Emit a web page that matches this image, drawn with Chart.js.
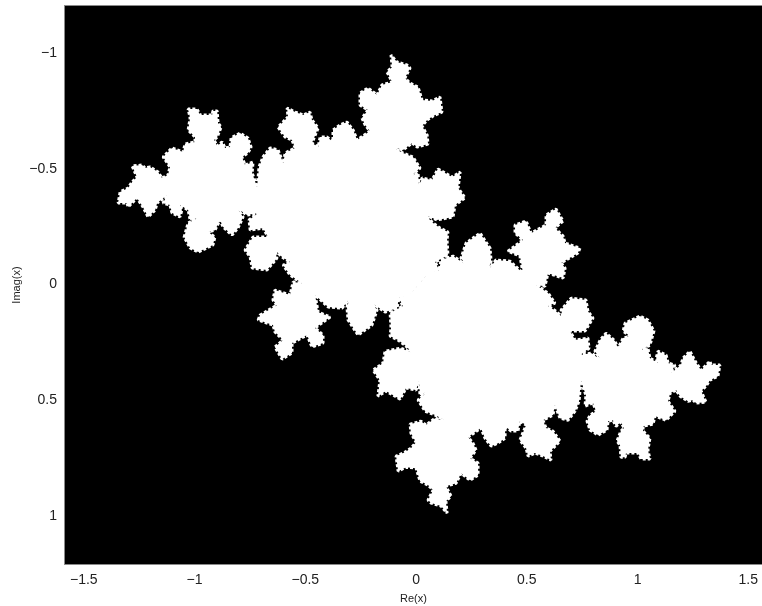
<!DOCTYPE html>
<html>
<head>
<meta charset="utf-8">
<style>
  html, body { margin: 0; padding: 0; background: #fff; overflow: hidden; }
  canvas { display: block; }
</style>
<script src="https://cdn.jsdelivr.net/npm/chart.js@4/dist/chart.umd.min.js"></script>
</head>
<body>
<canvas id="julia-chart" width="762" height="606"></canvas>
<script>
// outline of the upper left body
const upperRe = [
  0.014,0.050,0.104,0.086,0.144,0.140,0.144,0.108,0.077,0.041,
  0.095,0.167,0.176,0.221,0.190,0.199,0.163,0.099,0.072,0.027,
  0.014,0.009,-0.027,0.018,-0.014,-0.059,-0.117,-0.059,-0.018,0.005,
  0.054,0.050,0.027,0.050,0.077,0.117,0.108,0.072,0.027,0.009,
  -0.027,-0.050,-0.027,-0.041,-0.086,-0.113,-0.108,-0.131,-0.108,-0.154,
  -0.176,-0.217,-0.253,-0.253,-0.217,-0.244,-0.230,-0.208,-0.221,-0.266,
  -0.284,-0.312,-0.343,-0.375,-0.375,-0.402,-0.433,-0.442,-0.470,-0.442,
  -0.470,-0.479,-0.510,-0.546,-0.582,-0.578,-0.623,-0.591,-0.560,-0.546,
  -0.591,-0.600,-0.623,-0.659,-0.691,-0.709,-0.713,-0.718,-0.740,-0.736,
  -0.772,-0.786,-0.759,-0.745,-0.759,-0.795,-0.835,-0.840,-0.862,-0.876,
  -0.898,-0.912,-0.898,-0.880,-0.894,-0.898,-0.917,-0.921,-0.975,-0.989,
  -1.029,-1.020,-1.029,-0.998,-0.998,-1.043,-1.052,-1.102,-1.142,-1.111,
  -1.120,-1.147,-1.165,-1.201,-1.224,-1.237,-1.282,-1.260,-1.282,-1.300,
  -1.336,-1.345,-1.305,-1.300,-1.260,-1.233,-1.210,-1.178,-1.169,-1.124,
  -1.142,-1.111,-1.102,-1.066,-1.057,-1.066,-1.029,-1.020,-0.984,-1.029,
  -1.047,-1.020,-0.984,-0.917,-0.908,-0.939,-0.908,-0.885,-0.871,-0.831,
  -0.804,-0.781,-0.808,-0.763,-0.713,-0.754,-0.749,-0.691,-0.668,-0.691,
  -0.736,-0.772,-0.749,-0.740,-0.673,-0.628,-0.637,-0.605,-0.569,-0.600,
  -0.569,-0.515,-0.555,-0.569,-0.637,-0.646,-0.628,-0.704,-0.713,-0.646,
  -0.637,-0.600,-0.637,-0.605,-0.560,-0.560,-0.492,-0.470,-0.420,-0.420,
  -0.456,-0.388,-0.442,-0.456,-0.397,-0.334,-0.298,-0.312,-0.307,-0.262,
  -0.199,-0.176,-0.199,-0.140,-0.086,-0.077,-0.027
];
const upperIm = [
  -0.002,-0.041,-0.063,-0.097,-0.127,-0.192,-0.227,-0.244,-0.266,-0.300,
  -0.279,-0.292,-0.343,-0.374,-0.417,-0.486,-0.464,-0.499,-0.451,-0.460,
  -0.421,-0.482,-0.464,-0.503,-0.551,-0.568,-0.598,-0.581,-0.611,-0.594,
  -0.607,-0.646,-0.685,-0.711,-0.728,-0.745,-0.810,-0.793,-0.797,-0.853,
  -0.870,-0.892,-0.935,-0.948,-0.961,-0.991,-0.940,-0.918,-0.875,-0.862,
  -0.819,-0.849,-0.827,-0.775,-0.754,-0.719,-0.689,-0.663,-0.654,-0.624,
  -0.667,-0.702,-0.689,-0.667,-0.616,-0.637,-0.637,-0.594,-0.611,-0.676,
  -0.711,-0.745,-0.732,-0.745,-0.762,-0.724,-0.680,-0.637,-0.624,-0.590,
  -0.568,-0.525,-0.581,-0.590,-0.551,-0.508,-0.464,-0.421,-0.482,-0.529,
  -0.516,-0.551,-0.568,-0.594,-0.633,-0.654,-0.633,-0.594,-0.590,-0.616,
  -0.598,-0.624,-0.637,-0.680,-0.698,-0.750,-0.750,-0.732,-0.732,-0.758,
  -0.758,-0.719,-0.667,-0.637,-0.616,-0.607,-0.572,-0.590,-0.551,-0.508,
  -0.473,-0.460,-0.486,-0.508,-0.503,-0.516,-0.512,-0.464,-0.443,-0.417,
  -0.400,-0.352,-0.352,-0.335,-0.374,-0.335,-0.292,-0.322,-0.352,-0.387,
  -0.352,-0.343,-0.309,-0.292,-0.322,-0.343,-0.322,-0.279,-0.287,-0.266,
  -0.205,-0.158,-0.140,-0.171,-0.205,-0.227,-0.235,-0.279,-0.248,-0.214,
  -0.244,-0.292,-0.330,-0.300,-0.309,-0.279,-0.235,-0.244,-0.205,-0.205,
  -0.205,-0.149,-0.119,-0.071,-0.063,-0.114,-0.149,-0.119,-0.097,-0.084,
  -0.041,-0.006,-0.011,0.045,0.024,0.067,0.089,0.132,0.153,0.175,
  0.205,0.240,0.270,0.322,0.296,0.253,0.218,0.270,0.253,0.218,
  0.188,0.140,0.119,0.045,0.097,0.102,0.058,0.097,0.153,0.218,
  0.175,0.110,0.080,0.119,0.102,0.058,0.045
];

// outline of the lower right body
const lowerRe = [
  0.013,-0.023,-0.077,-0.059,-0.117,-0.113,-0.117,-0.081,-0.050,-0.014,
  -0.068,-0.140,-0.149,-0.194,-0.163,-0.172,-0.136,-0.072,-0.045,0.000,
  0.013,0.018,0.054,0.009,0.041,0.086,0.144,0.086,0.045,0.022,
  -0.027,-0.023,0.000,-0.023,-0.050,-0.090,-0.081,-0.045,0.000,0.018,
  0.054,0.077,0.054,0.068,0.113,0.140,0.135,0.158,0.135,0.181,
  0.203,0.244,0.280,0.280,0.244,0.271,0.257,0.235,0.248,0.293,
  0.311,0.339,0.370,0.402,0.402,0.429,0.460,0.469,0.497,0.469,
  0.497,0.506,0.537,0.573,0.609,0.605,0.650,0.618,0.587,0.573,
  0.618,0.627,0.650,0.686,0.718,0.736,0.740,0.745,0.767,0.763,
  0.799,0.813,0.786,0.772,0.786,0.822,0.862,0.867,0.889,0.903,
  0.925,0.939,0.925,0.907,0.921,0.925,0.944,0.948,1.002,1.016,
  1.056,1.047,1.056,1.025,1.025,1.070,1.079,1.129,1.169,1.138,
  1.147,1.174,1.192,1.228,1.251,1.264,1.309,1.287,1.309,1.327,
  1.363,1.372,1.332,1.327,1.287,1.260,1.237,1.205,1.196,1.151,
  1.169,1.138,1.129,1.093,1.084,1.093,1.056,1.047,1.011,1.056,
  1.074,1.047,1.011,0.944,0.935,0.966,0.935,0.912,0.898,0.858,
  0.831,0.808,0.835,0.790,0.740,0.781,0.776,0.718,0.695,0.718,
  0.763,0.799,0.776,0.767,0.700,0.655,0.664,0.632,0.596,0.627,
  0.596,0.542,0.582,0.596,0.664,0.673,0.655,0.731,0.740,0.673,
  0.664,0.627,0.664,0.632,0.587,0.587,0.519,0.497,0.447,0.447,
  0.483,0.415,0.469,0.483,0.424,0.361,0.325,0.339,0.334,0.289,
  0.226,0.203,0.226,0.167,0.113,0.104,0.054
];
const lowerIm = [
  -0.002,0.037,0.059,0.093,0.123,0.188,0.223,0.240,0.262,0.296,
  0.275,0.288,0.339,0.370,0.413,0.482,0.460,0.495,0.447,0.456,
  0.417,0.478,0.460,0.499,0.547,0.564,0.594,0.577,0.607,0.590,
  0.603,0.642,0.681,0.707,0.724,0.741,0.806,0.789,0.793,0.849,
  0.866,0.888,0.931,0.944,0.957,0.987,0.936,0.914,0.871,0.858,
  0.815,0.845,0.823,0.771,0.750,0.715,0.685,0.659,0.650,0.620,
  0.663,0.698,0.685,0.663,0.612,0.633,0.633,0.590,0.607,0.672,
  0.707,0.741,0.728,0.741,0.758,0.720,0.676,0.633,0.620,0.586,
  0.564,0.521,0.577,0.586,0.547,0.504,0.460,0.417,0.478,0.525,
  0.512,0.547,0.564,0.590,0.629,0.650,0.629,0.590,0.586,0.612,
  0.594,0.620,0.633,0.676,0.694,0.746,0.746,0.728,0.728,0.754,
  0.754,0.715,0.663,0.633,0.612,0.603,0.568,0.586,0.547,0.504,
  0.469,0.456,0.482,0.504,0.499,0.512,0.508,0.460,0.439,0.413,
  0.396,0.348,0.348,0.331,0.370,0.331,0.288,0.318,0.348,0.383,
  0.348,0.339,0.305,0.288,0.318,0.339,0.318,0.275,0.283,0.262,
  0.201,0.154,0.136,0.167,0.201,0.223,0.231,0.275,0.244,0.210,
  0.240,0.288,0.326,0.296,0.305,0.275,0.231,0.240,0.201,0.201,
  0.201,0.145,0.115,0.067,0.059,0.110,0.145,0.115,0.093,0.080,
  0.037,0.002,0.007,-0.049,-0.028,-0.071,-0.093,-0.136,-0.157,-0.179,
  -0.209,-0.244,-0.274,-0.326,-0.300,-0.257,-0.222,-0.274,-0.257,-0.222,
  -0.192,-0.144,-0.123,-0.049,-0.101,-0.106,-0.062,-0.101,-0.157,-0.222,
  -0.179,-0.114,-0.084,-0.123,-0.106,-0.062,-0.049
];

// small black specks inside the white
const holeRe = [-1.007,-0.379,-0.185,-0.185,-0.018,-0.659,-0.041,0.018,-0.736,
  1.034,0.406,0.212,0.212,0.045,0.686,0.068,0.009,0.763];
const holeIm = [-0.663,-0.590,-0.637,-0.698,-0.650,-0.495,-0.443,-0.387,-0.361,
  0.659,0.586,0.633,0.694,0.646,0.491,0.439,0.383,0.357];

const xTicks = [-1.5, -1, -0.5, 0, 0.5, 1, 1.5];
const yTicks = [-1, -0.5, 0, 0.5, 1];

const toPoints = (re, im) => re.map((v, i) => ({ x: v, y: im[i] }));
const tickLabel = (v) => String(v).replace("-", "\u2212");

// the dashed thick border gives the outline its jagged fringe
function bodyDataset(re, im) {
  return {
    data: toPoints(re, im),
    showLine: true,
    fill: "shape",
    backgroundColor: "#fff",
    borderColor: "#fff",
    borderWidth: 3,
    borderDash: [3, 2],
    borderJoinStyle: "bevel",
    pointRadius: 0,
    tension: 0,
  };
}

// black plot area with a thin grey frame
const plotBackground = {
  id: "plotBackground",
  beforeDraw(chart) {
    const { ctx, chartArea: a } = chart;
    ctx.save();
    ctx.fillStyle = "#000";
    ctx.fillRect(a.left, a.top, a.width, a.height);
    ctx.strokeStyle = "#8a8a8a";
    ctx.lineWidth = 1;
    ctx.strokeRect(a.left - 0.5, a.top - 0.5, a.width + 1, a.height + 1);
    ctx.restore();
  },
};

const tickFont = { family: "'Liberation Sans'", size: 14 };
const titleFont = { family: "'Liberation Sans'", size: 11 };

new Chart(document.getElementById("julia-chart"), {
  type: "scatter",
  data: {
    datasets: [
      bodyDataset(upperRe, upperIm),
      bodyDataset(lowerRe, lowerIm),
      {
        data: toPoints(holeRe, holeIm),
        backgroundColor: "#000",
        borderWidth: 0,
        pointRadius: 1.6,
      },
    ],
  },
  options: {
    responsive: false,
    animation: false,
    layout: { autoPadding: false, padding: { top: 6, right: 0, bottom: 0, left: 0 } },
    plugins: { legend: { display: false }, tooltip: { enabled: false } },
    scales: {
      x: {
        type: "linear",
        min: -1.585,
        max: 1.562,
        grid: { display: false },
        border: { display: false },
        afterBuildTicks: (s) => { s.ticks = xTicks.map((v) => ({ value: v })); },
        afterFit: (s) => { s.height = 42; s.paddingLeft = 0; s.paddingRight = 0; },
        ticks: {
          color: "#222",
          font: tickFont,
          padding: 0,
          maxRotation: 0,
          callback: tickLabel,
        },
        title: { display: true, text: "Re(x)", color: "#222", font: titleFont, padding: { top: 3, bottom: 0 } },
      },
      y: {
        type: "linear",
        reverse: true,
        min: -1.203,
        max: 1.207,
        grid: { display: false },
        border: { display: false },
        afterBuildTicks: (s) => { s.ticks = yTicks.map((v) => ({ value: v })); },
        afterFit: (s) => { s.width = 65; s.paddingTop = 0; s.paddingBottom = 0; },
        ticks: {
          color: "#222",
          font: tickFont,
          padding: 0,
          callback: tickLabel,
        },
        title: { display: true, text: "Imag(x)", color: "#222", font: titleFont, padding: { top: 10, bottom: 0 } },
      },
    },
  },
  plugins: [plotBackground],
});
</script>
</body>
</html>
